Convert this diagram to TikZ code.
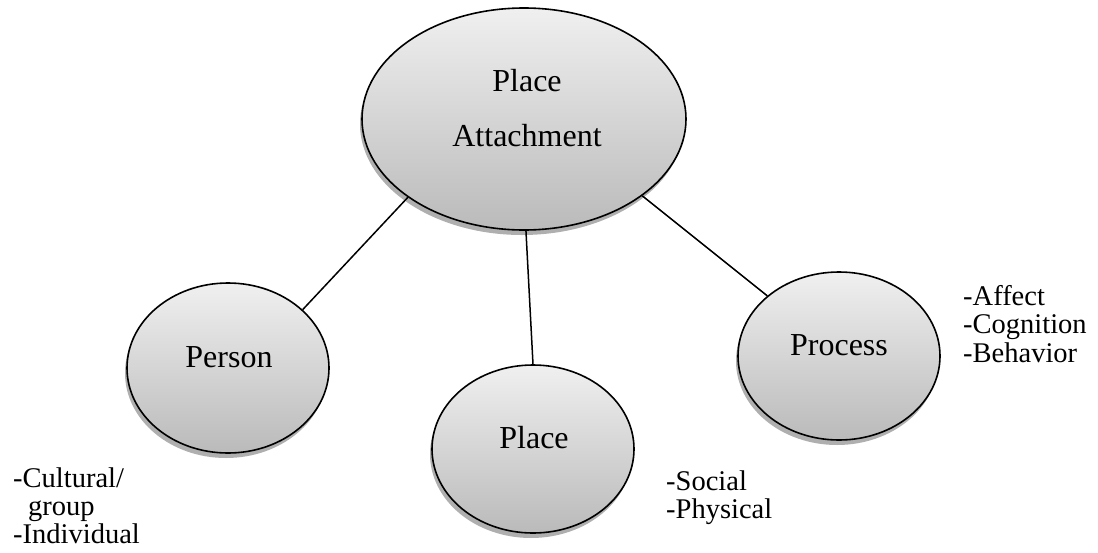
\documentclass[tikz,border=0pt]{standalone}
\usepackage{fontspec}
\setmainfont{Liberation Serif}
\usetikzlibrary{shapes.geometric,shadows}
\begin{document}
\begin{tikzpicture}[x=1pt,y=-1pt,
  bubble/.style={ellipse, draw=black, line width=1.6pt, inner sep=0pt,
    top color=black!6, bottom color=black!27,
    drop shadow={shadow xshift=-2pt, shadow yshift=-5pt, fill=black!35, opacity=0.9}},
  link/.style={draw=black, line width=1.5pt},
  title/.style={anchor=base, inner sep=0pt, font=\fontsize{32}{38}\selectfont},
  note/.style={anchor=base west, inner sep=0pt, font=\fontsize{28.5}{30}\selectfont}]
\useasboundingbox (0,0) rectangle (1098,552);

% bubbles
\node[bubble, minimum width=324pt, minimum height=222pt] (big) at (524,119) {};
\node[bubble, minimum width=202pt, minimum height=170pt] (person) at (228,368) {};
\node[bubble, minimum width=202pt, minimum height=168pt] (place) at (533,449) {};
\node[bubble, minimum width=202pt, minimum height=168pt] (process) at (839,356) {};

% bubble captions
\node[title] (bigA) at (527,91) {Place};
\node[title] (bigB) at (527,146) {Attachment};
\node[title] (personT) at (229,367) {Person};
\node[title] (placeT) at (534,448) {Place};
\node[title] (processT) at (839,355) {Process};

% connectors
\draw[link] (big.214) -- (person.38);
\draw[link] (big.271.5) -- (place.90);
\draw[link] (big.327.3) -- (process.140.3);

% side notes
\node[note] (af) at (963,305) {-Affect};
\node[note] (co) at (963,333) {-Cognition};
\node[note] (be) at (963,362) {-Behavior};

\node[note] (so) at (666,490) {-Social};
\node[note] (ph) at (666,518) {-Physical};

\node[note] (cu) at (13,487) {-Cultural/};
\node[note] (gr) at (28,515) {group};
\node[note] (in) at (13,543) {-Individual};
\end{tikzpicture}
\end{document}
